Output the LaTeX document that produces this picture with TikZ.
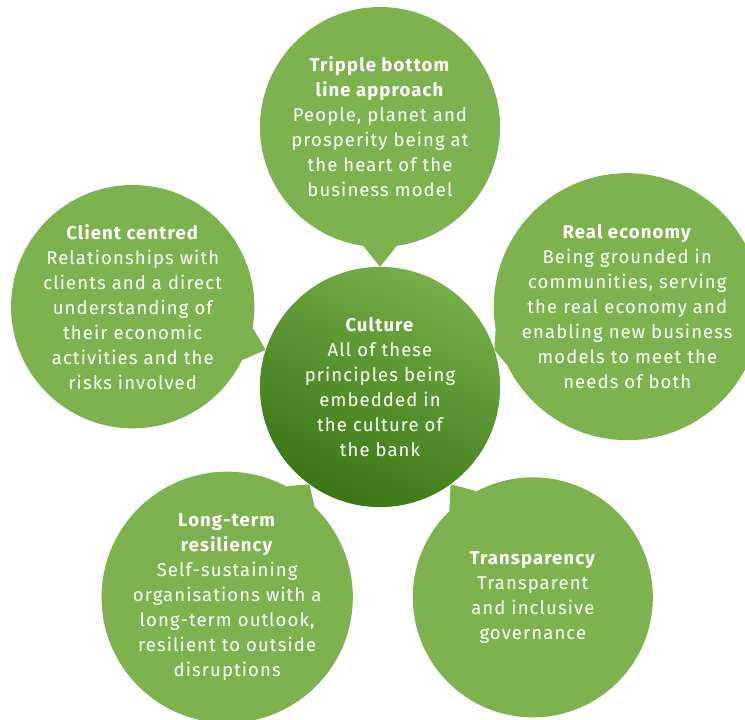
\documentclass[tikz,border=0pt]{standalone}
\usepackage{fontspec}
\setmainfont{Fira Sans}[LetterSpace=6]
\usepackage{tikz}
\usetikzlibrary{positioning}
\definecolor{leafgreen}{RGB}{126,178,79}
\definecolor{coretop}{RGB}{118,174,72}
\definecolor{corebottom}{RGB}{58,118,20}

\begin{document}
\begin{tikzpicture}[x=1pt, y=1pt,
    bubble/.style={circle, fill=leafgreen, minimum size=240pt, inner sep=0pt,
      text=white, align=center, font=\fontsize{18.5}{25}\selectfont},
    core/.style={bubble, top color=coretop, bottom color=corebottom, shading angle=-25},
    tail/.style={fill=leafgreen}]
      \useasboundingbox (-380,387) rectangle (365,-333);
      \node[core] (culture) at (0, 0) {\textbf{Culture}\\All of these\\principles being\\embedded in\\the culture of\\the bank};
      \node[bubble] (tripple) at (90:260) {\textbf{Tripple bottom}\\\textbf{line approach}\\People, planet and\\prosperity being at\\the heart of the\\business model};
      \node[bubble] (client) at (162:260) {\textbf{Client centred}\\Relationships with\\clients and a direct\\understanding of\\their economic\\activities and the\\risks involved};
      \node[bubble] (realeco) at (18:260) {\textbf{Real economy}\\Being grounded in\\communities, serving\\the real economy and\\enabling new business\\models to meet the\\needs of both};
      \node[bubble] (longterm) at (234:260) {\textbf{Long-term}\\\textbf{resiliency}\\Self-sustaining\\organisations with a\\long-term outlook,\\resilient to outside\\disruptions};
      \node[bubble] (transp) at (306:260) {\textbf{Transparency}\\Transparent\\and inclusive\\governance};
      \fill[tail] (tripple.262) -- (culture.90) -- (tripple.278) -- cycle;
      \fill[tail] (client.334) -- (culture.162) -- (client.350) -- cycle;
      \fill[tail] (realeco.190) -- (culture.18) -- (realeco.206) -- cycle;
      \fill[tail] (longterm.46) -- (culture.234) -- (longterm.62) -- cycle;
      \fill[tail] (transp.118) -- (culture.306) -- (transp.134) -- cycle;
    \end{tikzpicture}
\end{document}
